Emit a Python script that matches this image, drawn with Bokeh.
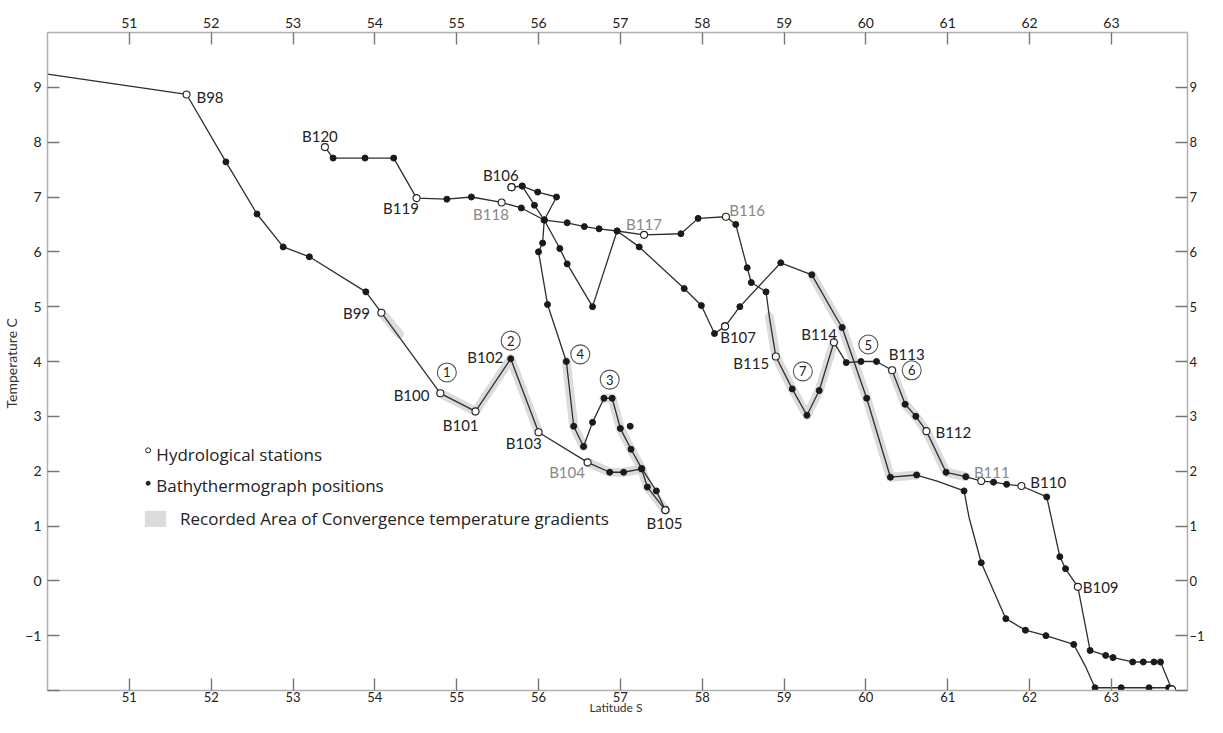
from bokeh.plotting import figure
from bokeh.models import LinearAxis, FixedTicker
from bokeh.embed import file_html
from bokeh.resources import INLINE
from bokeh.core.properties import value

FONT = "Lato"
LEG_FONT = "Open Sans"

# ---------------- data (latitude S, temperature C) ----------------
# kind: "o" hydrological station, "b" bathythermograph position, "-" vertex only
t1_lat = [50.00, 51.70, 52.18, 52.56, 52.88, 53.20, 53.89, 54.08, 54.80, 55.23, 55.66, 56.00,
          56.60, 56.87, 57.04, 57.26, 57.33, 57.55]
t1_temp = [9.24, 8.87, 7.64, 6.69, 6.09, 5.91, 5.27, 4.89, 3.42, 3.09, 4.05, 2.71,
           2.16, 1.98, 1.98, 2.04, 1.71, 1.29]
t1_kind = ["-", "o", "b", "b", "b", "b", "b", "o", "o", "o", "b", "o",
           "o", "b", "b", "b", "b", "o"]

t2_lat = [57.55, 57.44, 57.26, 57.13, 57.00, 56.90, 56.80, 56.66, 56.55, 56.43, 56.34, 56.11,
          56.00, 56.05, 56.07, 56.22, 55.99, 55.80, 55.67]
t2_temp = [1.29, 1.64, 2.05, 2.40, 2.78, 3.33, 3.33, 2.89, 2.45, 2.82, 4.00, 5.04,
           6.00, 6.16, 6.58, 7.00, 7.09, 7.20, 7.18]
t2_kind = ["o", "b", "b", "b", "b", "b", "b", "b", "b", "b", "b", "b",
           "b", "b", "b", "b", "b", "b", "o"]

extra_lat = [57.12]
extra_temp = [2.82]

t3_lat = [55.67, 55.80, 55.95, 56.07, 56.26, 56.35, 56.66, 56.96, 57.23, 57.78, 57.99, 58.15, 58.28]
t3_temp = [7.18, 7.20, 6.85, 6.58, 6.06, 5.78, 5.00, 6.38, 6.09, 5.33, 5.02, 4.51, 4.64]
t3_kind = ["o", "b", "b", "b", "b", "b", "b", "b", "b", "b", "b", "b", "o"]

t4_lat = [58.28, 58.46, 58.96, 59.34, 59.63, 59.71, 60.01, 60.30, 60.62, 60.87, 61.20, 61.26,
          61.41, 61.71, 61.95, 62.20, 62.54, 62.68, 62.80, 63.12, 63.46, 63.70, 63.74]
t4_temp = [4.64, 5.00, 5.80, 5.58, 4.82, 4.62, 3.33, 1.89, 1.93, 1.82, 1.64, 1.16,
           0.33, -0.69, -0.90, -1.00, -1.16, -1.55, -1.95, -1.95, -1.95, -1.95, -1.98]
t4_kind = ["o", "b", "b", "b", "-", "b", "b", "b", "b", "-", "b", "-",
           "b", "b", "b", "b", "b", "-", "b", "b", "b", "b", "o"]

t5_lat = [63.74, 63.60, 63.52, 63.39, 63.26, 63.02, 62.93, 62.74, 62.59, 62.44, 62.37, 62.21,
          61.90, 61.72, 61.56, 61.41, 61.22, 60.98, 60.74, 60.61, 60.48, 60.32, 60.13, 59.94,
          59.76, 59.61, 59.43, 59.28, 59.10, 58.90, 58.82, 58.78, 58.60, 58.55, 58.41, 58.29,
          57.95, 57.74, 57.29, 56.96, 56.74, 56.56, 56.35, 56.07, 55.79, 55.55, 55.18, 54.88,
          54.51, 54.23, 53.88, 53.49, 53.39]
t5_temp = [-1.98, -1.48, -1.48, -1.48, -1.48, -1.40, -1.36, -1.27, -0.11, 0.22, 0.44, 1.53,
           1.73, 1.76, 1.80, 1.82, 1.90, 1.98, 2.73, 3.00, 3.22, 3.84, 4.00, 4.00,
           3.98, 4.35, 3.47, 3.02, 3.50, 4.09, 4.82, 5.27, 5.44, 5.71, 6.50, 6.64,
           6.61, 6.33, 6.31, 6.38, 6.42, 6.46, 6.53, 6.58, 6.80, 6.90, 7.00, 6.96,
           6.98, 7.71, 7.71, 7.71, 7.91]
t5_kind = ["o", "b", "b", "b", "b", "b", "b", "b", "o", "b", "b", "b",
           "o", "b", "b", "o", "b", "b", "o", "b", "b", "o", "b", "b",
           "b", "o", "b", "b", "b", "o", "-", "b", "b", "b", "b", "o",
           "b", "b", "o", "b", "b", "b", "b", "b", "b", "o", "b", "b",
           "o", "b", "b", "b", "o"]

# recorded areas of convergence temperature gradients (shaded bands)
shade_lats = [
    [54.08, 54.30],
    [54.80, 55.23, 55.66, 56.00],
    [56.34, 56.43, 56.55],
    [56.80, 56.90, 57.00, 57.13, 57.26, 57.33, 57.55],
    [56.60, 56.87, 57.04, 57.26],
    [58.82, 58.90, 59.10, 59.28, 59.43, 59.61],
    [59.34, 59.63, 59.71, 60.01, 60.30, 60.62],
    [60.32, 60.48, 60.61, 60.74, 60.98, 61.22],
]
shade_temps = [
    [4.89, 4.50],
    [3.42, 3.09, 4.05, 2.71],
    [4.00, 2.82, 2.45],
    [3.33, 3.33, 2.78, 2.40, 2.05, 1.71, 1.29],
    [2.16, 1.98, 1.98, 2.04],
    [4.82, 4.09, 3.50, 3.02, 3.47, 4.35],
    [5.58, 4.82, 4.62, 3.33, 1.89, 1.93],
    [3.84, 3.22, 3.00, 2.73, 1.98, 1.90],
]

# station labels
lab_text = ["B98", "B99", "B100", "B101", "B102", "B103", "B104", "B105", "B106", "B107",
            "B108", "B109", "B110", "B111", "B112", "B113", "B114", "B115", "B116", "B117",
            "B118", "B119", "B120"]
lab_lat = [51.82, 53.61, 54.23, 54.83, 55.13, 55.60, 56.13, 57.32, 55.32, 58.22,
           63.23, 62.65, 62.01, 61.32, 60.85, 60.28, 59.21, 58.38, 58.33, 57.07,
           55.20, 54.10, 53.11]
lab_temp = [8.82, 4.89, 3.38, 2.85, 4.09, 2.51, 1.98, 1.05, 7.40, 4.44,
            -2.15, -0.11, 1.80, 1.98, 2.71, 4.13, 4.51, 3.98, 6.76, 6.51,
            6.69, 6.80, 8.11]
lab_color = ["#222", "#222", "#222", "#222", "#222", "#222", "#888", "#222", "#222", "#222",
             "#222", "#222", "#222", "#888", "#222", "#222", "#222", "#222", "#888", "#888",
             "#888", "#222", "#222"]

# circled gradient numbers
circ_text = ["1", "2", "3", "4", "5", "6", "7"]
circ_lat = [54.88, 55.66, 56.87, 56.51, 60.03, 60.56, 59.23]
circ_temp = [3.80, 4.38, 3.67, 4.13, 4.31, 3.84, 3.82]

x_ticks = [51, 52, 53, 54, 55, 56, 57, 58, 59, 60, 61, 62, 63]
y_ticks = [-2, -1, 0, 1, 2, 3, 4, 5, 6, 7, 8, 9]

legend_labels = ["Hydrological  stations", "Bathythermograph  positions",
                 "Recorded  Area  of  Convergence  temperature  gradients"]

# ---------------- figure ----------------
# right end of the latitude range chosen so the frame keeps 82 px per degree
p = figure(width=1207, height=717, x_range=(50, 63.93), y_range=(-2, 10),
           output_backend="svg", toolbar_location=None,
           x_axis_location=None, y_axis_location=None,
           min_border_left=47, min_border_right=12, min_border_top=32, min_border_bottom=25)
p.outline_line_color = None
p.xgrid.visible = False
p.ygrid.visible = False
p.background_fill_color = "white"


def style_axis(ax, ticks, overrides=None):
    ax.ticker = FixedTicker(ticks=ticks)
    ax.major_tick_in = 12
    ax.major_tick_out = 0
    ax.minor_tick_in = 0
    ax.minor_tick_out = 0
    ax.axis_line_color = "#b0b0b0"
    ax.axis_line_width = 1.5
    ax.major_tick_line_color = "#777777"
    ax.major_tick_line_width = 1.4
    ax.major_label_text_font = FONT
    ax.major_label_text_font_size = "14px"
    ax.major_label_text_color = "#222222"
    ax.axis_label_text_font = FONT
    ax.axis_label_text_font_style = "normal"
    ax.axis_label_text_color = "#333333"
    if overrides:
        ax.major_label_overrides = overrides


bottom = LinearAxis(axis_label="Latitude  S")
style_axis(bottom, x_ticks)
bottom.major_label_text_font_size = "13px"
bottom.major_label_standoff = 1
bottom.axis_label_text_font_size = "12px"
bottom.axis_label_standoff = -5
p.add_layout(bottom, "below")

top = LinearAxis()
style_axis(top, x_ticks)
top.major_label_standoff = 5
p.add_layout(top, "above")

left = LinearAxis(axis_label="Temperature  C")
style_axis(left, y_ticks, {-2: ""})
left.major_label_standoff = 6
left.axis_label_text_font_size = "14px"
left.axis_label_standoff = 2
p.add_layout(left, "left")

right = LinearAxis()
style_axis(right, y_ticks, {-2: ""})
right.major_label_standoff = 2
right.major_label_text_font_size = "13px"
p.add_layout(right, "right")

# shaded gradient bands
p.multi_line(xs=shade_lats, ys=shade_temps, line_color="#cfcfcf", line_width=9,
             line_alpha=0.75, line_cap="round", line_join="round")

# transect lines and markers
LINE_C = "#2e2e2e"
transects = [(t1_lat, t1_temp, t1_kind), (t2_lat, t2_temp, t2_kind),
             (t3_lat, t3_temp, t3_kind), (t4_lat, t4_temp, t4_kind),
             (t5_lat, t5_temp, t5_kind)]
for lat, temp, kind in transects:
    p.line(lat, temp, line_color=LINE_C, line_width=1.3)
    bx = [a for a, k in zip(lat, kind) if k == "b"]
    by = [b for b, k in zip(temp, kind) if k == "b"]
    p.scatter(bx, by, marker="circle", size=6, fill_color="#1a1a1a", line_color="#1a1a1a")

p.scatter(extra_lat, extra_temp, marker="circle", size=6, fill_color="#1a1a1a", line_color="#1a1a1a")

for lat, temp, kind in transects:
    ox = [a for a, k in zip(lat, kind) if k == "o"]
    oy = [b for b, k in zip(temp, kind) if k == "o"]
    p.scatter(ox, oy, marker="circle", size=7, fill_color="white", line_color="#222",
              line_width=1.1)

# station labels
p.text(x=lab_lat, y=lab_temp, text=lab_text, text_color=lab_color,
       text_font=value(FONT), text_font_size="15px",
       text_align="left", text_baseline="middle")

# circled numbers
p.scatter(circ_lat, circ_temp, marker="circle", size=19, fill_color="white",
          line_color="#555555", line_width=1.1)
p.text(x=circ_lat, y=circ_temp, text=circ_text, text_color="#222",
       text_font=value(FONT), text_font_size="13px",
       text_align="center", text_baseline="middle")

# legend (drawn in data space)
leg_x_marker = 51.23
leg_x_text = 51.33
leg_rows = [2.31, 1.73, 1.13]
p.scatter([leg_x_marker], [leg_rows[0] + 0.07], marker="circle", size=5,
          fill_color="white", line_color="#222")
p.scatter([leg_x_marker], [leg_rows[1] + 0.05], marker="circle", size=4,
          fill_color="#222", line_color="#222")
p.rect(x=[51.32], y=[leg_rows[2]], width=0.26, height=0.3, fill_color="#dcdcdc",
       line_color=None)
p.text(x=[leg_x_text, leg_x_text, 51.62], y=leg_rows, text=legend_labels,
       text_color="#222", text_font=value(LEG_FONT), text_font_size="17px",
       text_align="left", text_baseline="middle")

open("out.html", "w").write(file_html(p, INLINE))
